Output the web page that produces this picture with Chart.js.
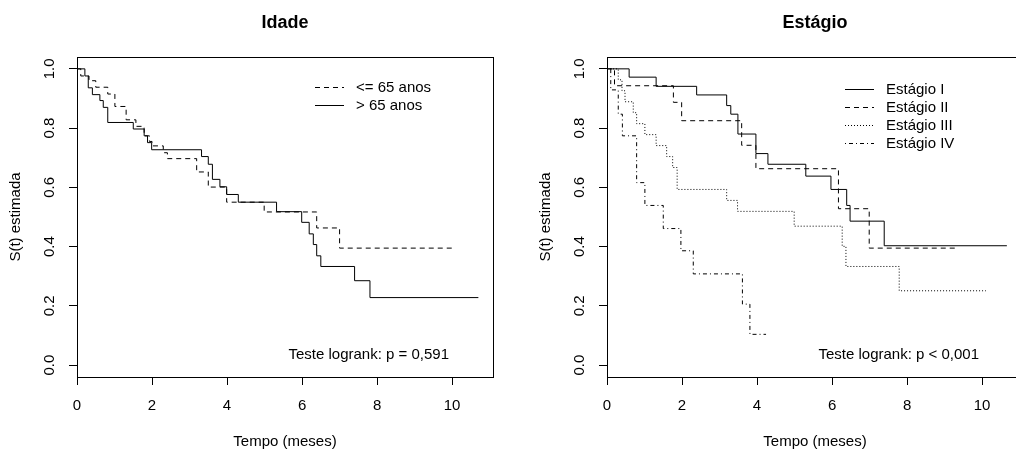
<!DOCTYPE html>
<html>
<head>
<meta charset="utf-8">
<script src="https://cdn.jsdelivr.net/npm/chart.js@4"></script>
<style>
  html, body { margin: 0; padding: 0; background: #fff; overflow: hidden; }
  #wrap { position: relative; width: 1016px; height: 450px; overflow: hidden; background: #fff; }
  canvas { position: absolute; top: 0; }
</style>
</head>
<body>
<div id="wrap">
  <canvas id="cIdade" width="530" height="450" style="left:0"></canvas>
  <canvas id="cEstagio" width="530" height="450" style="left:530px"></canvas>
</div>
<script>
// Kaplan-Meier estimates: each series is a list of event times (meses)
// and the survival level that holds from that time onward.
const xTickValues = [0, 2, 4, 6, 8, 10];
const yTickValues = [0, 0.2, 0.4, 0.6, 0.8, 1.0];
const yTickLabels = ['0.0', '0.2', '0.4', '0.6', '0.8', '1.0'];

// Idade
const idadeAte65Tempo = [0, 0.10, 0.32, 0.50, 0.82, 1.01, 1.31, 1.57, 1.79, 1.93, 2.00, 2.30, 2.41, 3.19, 3.50, 3.99, 4.99, 6.39, 7.00, 10.08];
const idadeAte65Surv  = [1, 0.976, 0.960, 0.938, 0.915, 0.873, 0.828, 0.806, 0.774, 0.755, 0.740, 0.717, 0.697, 0.652, 0.601, 0.550, 0.517, 0.463, 0.395, 0.395];
const idadeMais65Tempo = [0, 0.21, 0.30, 0.41, 0.61, 0.70, 0.82, 1.50, 1.79, 1.88, 1.99, 3.32, 3.50, 3.61, 3.81, 3.99, 4.30, 5.32, 5.99, 6.19, 6.30, 6.39, 6.50, 7.40, 7.81, 10.70];
const idadeMais65Surv  = [1, 0.976, 0.936, 0.913, 0.893, 0.870, 0.819, 0.797, 0.774, 0.751, 0.727, 0.704, 0.678, 0.627, 0.602, 0.576, 0.550, 0.518, 0.482, 0.443, 0.407, 0.369, 0.333, 0.285, 0.228, 0.228];

// Estágio
const estagioITempo = [0, 0.59, 1.31, 2.39, 3.19, 3.30, 3.49, 3.97, 4.29, 5.30, 5.97, 6.39, 6.48, 7.39, 10.66];
const estagioISurv  = [1, 0.972, 0.941, 0.912, 0.876, 0.847, 0.780, 0.714, 0.678, 0.638, 0.593, 0.539, 0.486, 0.403, 0.403];
const estagioIITempo = [0, 0.20, 1.77, 1.99, 3.59, 3.97, 6.17, 6.99, 9.28];
const estagioIISurv  = [1, 0.943, 0.887, 0.825, 0.742, 0.663, 0.528, 0.395, 0.395];
const estagioIIITempo = [0, 0.30, 0.40, 0.48, 0.70, 0.79, 1.01, 1.31, 1.59, 1.75, 1.87, 3.19, 3.48, 4.99, 6.27, 6.37, 7.79, 10.10];
const estagioIIISurv  = [1, 0.963, 0.926, 0.889, 0.852, 0.815, 0.778, 0.741, 0.704, 0.667, 0.593, 0.556, 0.519, 0.469, 0.401, 0.333, 0.251, 0.251];
const estagioIVTempo = [0, 0.10, 0.30, 0.41, 0.79, 1.01, 1.50, 1.97, 2.30, 3.61, 3.81, 4.24];
const estagioIVSurv  = [1, 0.929, 0.847, 0.774, 0.616, 0.539, 0.461, 0.386, 0.308, 0.206, 0.104, 0.104];

const FONT = '"Liberation Sans", Arial, Helvetica, sans-serif';
const INK = '#000';
const DASH = { solid: [], dashed: [5, 4], dotted: [1, 2], dotdash: [1, 3, 4, 3] };

function toPoints(times, surv) {
  return times.map((t, i) => ({ x: t, y: surv[i] }));
}

function kmDataset(label, times, surv, dash) {
  return {
    label,
    data: toPoints(times, surv),
    borderColor: INK,
    borderWidth: 1,
    borderDash: dash,
    stepped: 'before',
    pointRadius: 0,
    fill: false,
  };
}

// Box, rotated y labels, title, in-plot legend and test annotation (R base style)
const rStylePlugin = {
  id: 'rStyle',
  afterDraw(chart, args, opts) {
    const { ctx, chartArea: a, scales } = chart;
    ctx.save();
    ctx.strokeStyle = INK;
    ctx.lineWidth = 1;
    ctx.setLineDash([]);
    ctx.strokeRect(Math.round(a.left) + 0.5, Math.round(a.top) + 0.5,
                   Math.round(a.right - a.left), Math.round(a.bottom - a.top));

    // y tick labels, rotated like las = 0
    ctx.fillStyle = INK;
    ctx.font = '15px ' + FONT;
    ctx.textAlign = 'center';
    ctx.textBaseline = 'middle';
    yTickValues.forEach((v, i) => {
      const py = scales.y.getPixelForValue(v);
      ctx.save();
      ctx.translate(a.left - 27, py);
      ctx.rotate(-Math.PI / 2);
      ctx.fillText(yTickLabels[i], 0, 0);
      ctx.restore();
    });

    // title
    ctx.font = 'bold 18px ' + FONT;
    ctx.fillText(opts.title, (a.left + a.right) / 2, 23);

    // legend
    ctx.font = '15px ' + FONT;
    ctx.textAlign = 'left';
    opts.legend.forEach((item, i) => {
      const y = Math.round(opts.legendY + i * 18) + 0.5;
      ctx.setLineDash(item.dash);
      ctx.beginPath();
      ctx.moveTo(a.left + opts.legendX, y);
      ctx.lineTo(a.left + opts.legendX + 29, y);
      ctx.stroke();
      ctx.setLineDash([]);
      ctx.fillText(item.text, a.left + opts.legendX + 41, y);
    });

    // log-rank annotation
    ctx.textAlign = 'right';
    ctx.fillText(opts.note, a.left + 372, 355);
    ctx.restore();
  }
};

function makeChart(canvasId, datasets, extra) {
  return new Chart(document.getElementById(canvasId), {
    type: 'line',
    data: { datasets },
    plugins: [rStylePlugin],
    options: {
      responsive: false,
      animation: false,
      devicePixelRatio: 1,
      layout: { padding: { left: 0, right: 37, top: 57, bottom: 0 } },
      plugins: {
        legend: { display: false },
        tooltip: { enabled: false },
        title: { display: false },
        rStyle: extra,
      },
      scales: {
        x: {
          type: 'linear',
          min: 0,
          max: 11.09,
          afterBuildTicks: s => { s.ticks = xTickValues.map(v => ({ value: v })); },
          afterFit: s => { s.height = 73; },
          border: { display: false },
          grid: { drawOnChartArea: false, drawTicks: true, tickLength: 8, color: INK, lineWidth: 1 },
          ticks: { color: INK, font: { family: FONT, size: 15 }, padding: 12, maxRotation: 0, autoSkip: false,
                   callback: v => String(v) },
          title: { display: true, text: 'Tempo (meses)', color: INK, font: { family: FONT, size: 15 },
                   padding: { top: 0, bottom: -1 } },
        },
        y: {
          type: 'linear',
          min: -0.04,
          max: 1.04,
          afterBuildTicks: s => { s.ticks = yTickValues.map(v => ({ value: v })); },
          afterFit: s => { s.width = 77; },
          border: { display: false },
          grid: { drawOnChartArea: false, drawTicks: true, tickLength: 8, color: INK, lineWidth: 1 },
          ticks: { display: false },
          title: { display: true, text: 'S(t) estimada', color: INK, font: { family: FONT, size: 15 },
                   padding: { top: 7, bottom: 0 } },
        },
      },
    },
  });
}

makeChart('cIdade', [
  kmDataset('<= 65 anos', idadeAte65Tempo, idadeAte65Surv, DASH.dashed),
  kmDataset('> 65 anos', idadeMais65Tempo, idadeMais65Surv, DASH.solid),
], {
  title: 'Idade',
  legendX: 238, legendY: 87,
  legend: [
    { text: '<= 65 anos', dash: DASH.dashed },
    { text: '> 65 anos', dash: DASH.solid },
  ],
  note: 'Teste logrank: p = 0,591',
});

makeChart('cEstagio', [
  kmDataset('Estágio I', estagioITempo, estagioISurv, DASH.solid),
  kmDataset('Estágio II', estagioIITempo, estagioIISurv, DASH.dashed),
  kmDataset('Estágio III', estagioIIITempo, estagioIIISurv, DASH.dotted),
  kmDataset('Estágio IV', estagioIVTempo, estagioIVSurv, DASH.dotdash),
], {
  title: 'Estágio',
  legendX: 238, legendY: 89,
  legend: [
    { text: 'Estágio I', dash: DASH.solid },
    { text: 'Estágio II', dash: DASH.dashed },
    { text: 'Estágio III', dash: DASH.dotted },
    { text: 'Estágio IV', dash: DASH.dotdash },
  ],
  note: 'Teste logrank: p < 0,001',
});
</script>
</body>
</html>
